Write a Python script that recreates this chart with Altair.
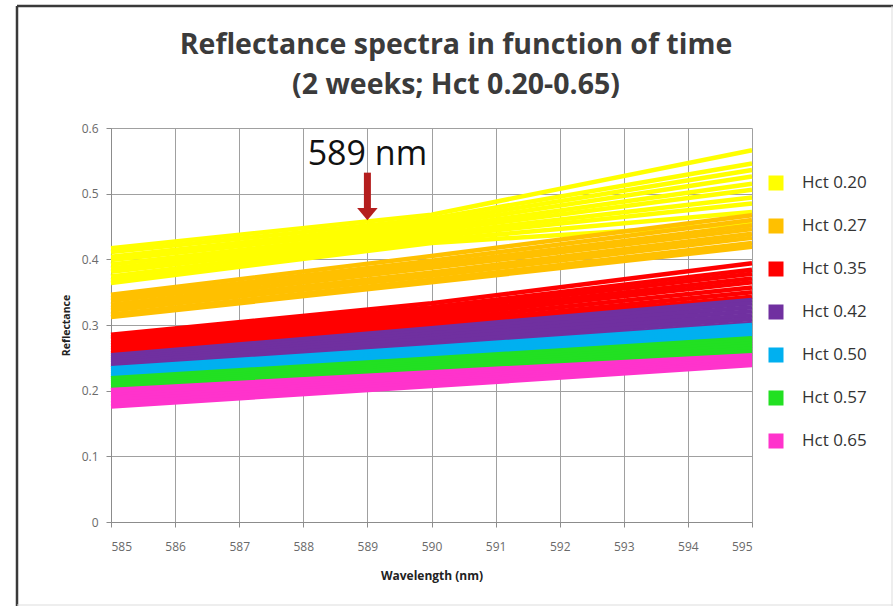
import altair as alt
import pandas as pd

# ---- data ----
wavelengths = [585, 590, 595]
hct_labels = ["Hct 0.20", "Hct 0.27", "Hct 0.35", "Hct 0.42", "Hct 0.50", "Hct 0.57", "Hct 0.65"]
hct_colors = ["#FFFF00", "#FFC000", "#FF0000", "#7030A0", "#00B0F0", "#22E022", "#FF33CC"]

# reflectance of every spectrum (one per time point) at 585, 590, 595 nm
hct020_585 = [0.417, 0.411, 0.404, 0.399, 0.392, 0.386, 0.381, 0.374, 0.368, 0.364]
hct020_590 = [0.468, 0.462, 0.457, 0.452, 0.447, 0.443, 0.438, 0.434, 0.429, 0.425]
hct020_595 = [0.566, 0.546, 0.536, 0.526, 0.515, 0.506, 0.494, 0.485, 0.472, 0.455]

hct027_585 = [0.346, 0.341, 0.337, 0.331, 0.326, 0.322, 0.316, 0.312]
hct027_590 = [0.405, 0.398, 0.392, 0.387, 0.380, 0.375, 0.369, 0.365]
hct027_595 = [0.467, 0.460, 0.452, 0.446, 0.439, 0.433, 0.425, 0.419]

hct035_585 = [0.285, 0.281, 0.278, 0.273, 0.269, 0.265, 0.261, 0.257]
hct035_590 = [0.333, 0.327, 0.322, 0.317, 0.312, 0.307, 0.302, 0.298]
hct035_595 = [0.394, 0.384, 0.378, 0.371, 0.365, 0.357, 0.350, 0.343]

hct042_585 = [0.254, 0.251, 0.248, 0.245, 0.242, 0.238, 0.235]
hct042_590 = [0.295, 0.291, 0.287, 0.283, 0.279, 0.274, 0.269]
hct042_595 = [0.338, 0.333, 0.327, 0.321, 0.315, 0.309, 0.303]

hct050_585 = [0.234, 0.231, 0.228, 0.225, 0.222, 0.219]
hct050_590 = [0.266, 0.263, 0.259, 0.256, 0.253, 0.250]
hct050_595 = [0.300, 0.297, 0.293, 0.289, 0.286, 0.282]

hct057_585 = [0.219, 0.216, 0.213, 0.210, 0.207, 0.204, 0.201]
hct057_590 = [0.249, 0.246, 0.242, 0.239, 0.236, 0.232, 0.229]
hct057_595 = [0.280, 0.276, 0.272, 0.268, 0.264, 0.260, 0.257]

hct065_585 = [0.201, 0.197, 0.193, 0.189, 0.185, 0.181, 0.176]
hct065_590 = [0.228, 0.225, 0.221, 0.218, 0.214, 0.211, 0.207]
hct065_595 = [0.254, 0.252, 0.249, 0.247, 0.244, 0.242, 0.239]

y_ticks = [0, 0.1, 0.2, 0.3, 0.4, 0.5, 0.6]
x_ticks = [585, 586, 587, 588, 589, 590, 591, 592, 593, 594, 595]

title_lines = ["Reflectance spectra in function of time", "(2 weeks; Hct 0.20-0.65)"]

marker_nm = 589
marker_text_y = 0.559
arrow_from = 0.532
arrow_to = 0.476
arrow_head = 0.469

groups = [
    (hct_labels[0], hct020_585, hct020_590, hct020_595),
    (hct_labels[1], hct027_585, hct027_590, hct027_595),
    (hct_labels[2], hct035_585, hct035_590, hct035_595),
    (hct_labels[3], hct042_585, hct042_590, hct042_595),
    (hct_labels[4], hct050_585, hct050_590, hct050_595),
    (hct_labels[5], hct057_585, hct057_590, hct057_595),
    (hct_labels[6], hct065_585, hct065_590, hct065_595),
]

rows = []
for gi, (label, a, b, c) in enumerate(groups):
    for li in range(len(a)):
        for w, v in zip(wavelengths, (a[li], b[li], c[li])):
            rows.append({"hct": label, "line": f"{label}-{li}", "wavelength": w,
                         "reflectance": v, "grp": gi})
df = pd.DataFrame(rows)

x_scale = alt.Scale(domain=[585, 595], nice=False, zero=False)
y_scale = alt.Scale(domain=[0, 0.6], nice=False)

lines = alt.Chart(df).mark_line(strokeWidth=4.5, strokeCap="butt").encode(
    x=alt.X("wavelength:Q", scale=x_scale,
            axis=alt.Axis(values=x_ticks, format="d", title="Wavelength (nm)")),
    y=alt.Y("reflectance:Q", scale=y_scale,
            axis=alt.Axis(values=y_ticks, format=".1~f", title="Reflectance")),
    color=alt.Color("hct:N", scale=alt.Scale(domain=hct_labels, range=hct_colors),
                    legend=alt.Legend(title=None, orient="none", legendX=650, legendY=40,
                                      symbolType="stroke", symbolSize=225,
                                      symbolStrokeWidth=15, clipHeight=30, rowPadding=13,
                                      labelOffset=11, labelFontSize=17,
                                      labelFont="Open Sans", labelColor="#333333")),
    detail="line:N",
    order="grp:Q",
)

annot = pd.DataFrame({"wavelength": [marker_nm], "reflectance": [arrow_from],
                      "reflectance_end": [arrow_to], "head": [arrow_head],
                      "text_y": [marker_text_y], "label": ["589 nm"]})

arrow = alt.Chart(annot).mark_rule(color="#B41E1E", strokeWidth=7).encode(
    x="wavelength:Q", y="reflectance:Q", y2="reflectance_end:Q")
head = alt.Chart(annot).mark_point(
    shape="M-1,-0.6L1,-0.6L0,0.6Z", filled=True, color="#B41E1E", size=420, opacity=1
).encode(x="wavelength:Q", y=alt.Y("head:Q"))
txt = alt.Chart(annot).mark_text(font="Open Sans", fontSize=34, color="#111111",
                                 baseline="middle", align="center").encode(
    x="wavelength:Q", y=alt.Y("text_y:Q"), text="label:N")

title_df = pd.DataFrame({"t": title_lines, "row": [0, 1]})
title1 = alt.Chart(title_df.iloc[[0]]).mark_text(
    font="Open Sans", fontSize=28.5, fontWeight="bold", color="#3b3b3b",
    align="center", baseline="middle").encode(
    text="t:N", x=alt.value(345), y=alt.value(-83))
title2 = alt.Chart(title_df.iloc[[1]]).mark_text(
    font="Open Sans", fontSize=28.5, fontWeight="bold", color="#3b3b3b",
    align="center", baseline="middle").encode(
    text="t:N", x=alt.value(345), y=alt.value(-43))

frame_df = pd.DataFrame({"k": [0]})
frame_top = alt.Chart(frame_df).mark_rule(color="#3a3a3a", strokeWidth=2.5).encode(
    x=alt.value(-94), x2=alt.value(782), y=alt.value(-122))
frame_left = alt.Chart(frame_df).mark_rule(color="#3a3a3a", strokeWidth=2.5).encode(
    x=alt.value(-94), y=alt.value(-122), y2=alt.value(478))
frame_right = alt.Chart(frame_df).mark_rule(color="#dddddd", strokeWidth=1).encode(
    x=alt.value(781), y=alt.value(-122), y2=alt.value(478))
frame_bottom = alt.Chart(frame_df).mark_rule(color="#dddddd", strokeWidth=1).encode(
    x=alt.value(-94), x2=alt.value(782), y=alt.value(477))

chart = alt.layer(
    lines, arrow, head, txt, title1, title2,
    frame_top, frame_left, frame_right, frame_bottom
).properties(
    width=641, height=394,
    padding={"left": 111, "top": 128, "right": 143, "bottom": 86},
    autosize=alt.AutoSizeParams(type="none"),
    background="white",
).configure_view(stroke=None).configure_axis(
    grid=True, gridColor="#a0a0a0", gridWidth=1,
    domainColor="#8c8c8c", domainWidth=1,
    tickColor="#8c8c8c", tickSize=5,
    labelFont="Open Sans", labelFontSize=12, labelColor="#6a6a6a",
    titleFont="Open Sans", titleFontWeight="bold", titleColor="#222222",
).configure_axisY(
    labelPadding=8, titleFontSize=10.5, titlePadding=10,
).configure_axisX(
    labelPadding=14, titleFontSize=12, titlePadding=18,
)

chart.save("out.html", embed_options={"renderer": "svg", "actions": False})
